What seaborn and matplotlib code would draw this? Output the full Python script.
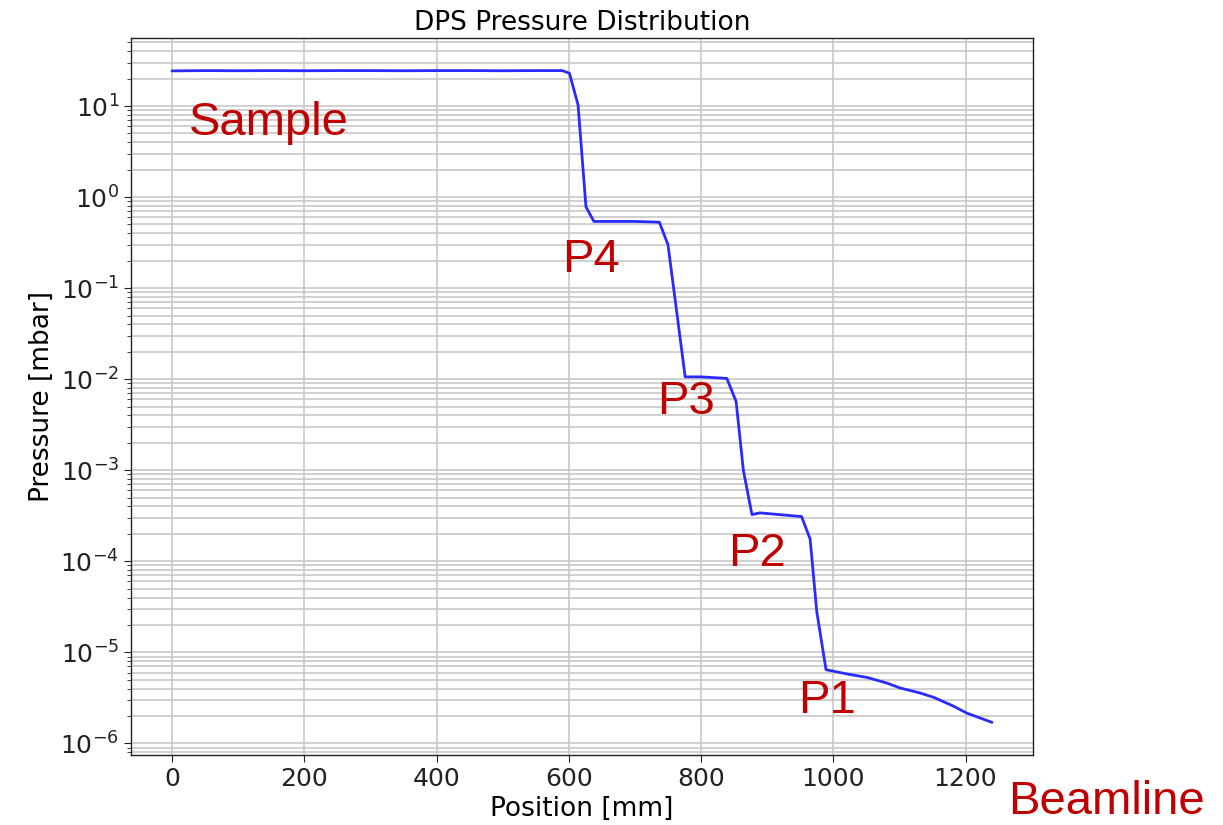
import matplotlib
matplotlib.use("Agg")
import matplotlib.pyplot as plt
import seaborn as sns
import pandas as pd

position_mm = [0, 50, 100, 150, 200, 250, 300, 350, 400, 450, 500, 550, 590,
               601, 614, 626, 638, 700, 737, 750, 776, 800, 839, 853, 864,
               877, 889, 952, 965, 975, 989, 1020, 1051, 1081, 1101, 1130,
               1152, 1180, 1202, 1240]
pressure_mbar = [24.3, 24.5, 24.4, 24.5, 24.4, 24.5, 24.5, 24.4, 24.5, 24.5, 24.4, 24.5, 24.5,
                 22.9, 10.3, 0.78, 0.54, 0.54, 0.53, 0.30, 0.0106, 0.0106, 0.0102, 0.0057, 1.0e-3,
                 3.26e-4, 3.4e-4, 3.1e-4, 1.75e-4, 2.8e-5, 6.45e-6, 5.8e-6, 5.3e-6, 4.6e-6, 4.06e-6, 3.6e-6,
                 3.2e-6, 2.6e-6, 2.15e-6, 1.7e-6]

labels = ["Sample", "P4", "P3", "P2", "P1"]
label_x = [26, 590, 733, 841, 947]
label_y = [4.8, 0.149, 0.0041, 8.8e-5, 2.14e-6]

df = pd.DataFrame({"Position [mm]": position_mm, "Pressure [mbar]": pressure_mbar})

sns.set_style("white", {"text.color": "black", "axes.labelcolor": "black",
                        "xtick.color": "black", "ytick.color": "black"})
plt.rcParams["font.family"] = ["DejaVu Sans"]

fig = plt.figure(figsize=(12.23, 8.25), dpi=100)
ax = fig.add_axes([131/1223, 1 - 755/825, (1033-131)/1223, (755-38)/825])

sns.lineplot(data=df, x="Position [mm]", y="Pressure [mbar]", ax=ax,
             color="#2a2aff", linewidth=2)
ax.set_yscale("log")
ax.grid(True, which="both", color="#c8c8c8", linewidth=1.2)
ax.grid(False, which="minor", axis="x")
ax.set_axisbelow(True)
for s in ax.spines.values():
    s.set_color("#222222")
    s.set_linewidth(1.0)
ax.tick_params(which="major", direction="out", length=5, labelsize=18, left=True, bottom=True,
               colors="#222222")
ax.tick_params(which="minor", direction="out", length=3, left=True, colors="#222222")
ax.set_title("DPS Pressure Distribution", fontsize=19)
ax.set_xlabel("Position [mm]", fontsize=19)
ax.set_ylabel("Pressure [mbar]", fontsize=19)

for t, xx, yy in zip(labels, label_x, label_y):
    ax.text(xx, yy, t, color="#c00000", fontsize=34,
            family="Liberation Sans", ha="left", va="baseline")
fig.text(1008/1223, 1 - 814/825, "Beamline", color="#c00000", fontsize=34,
         family="Liberation Sans", ha="left", va="baseline")

fig.savefig("out.png", dpi=100)
